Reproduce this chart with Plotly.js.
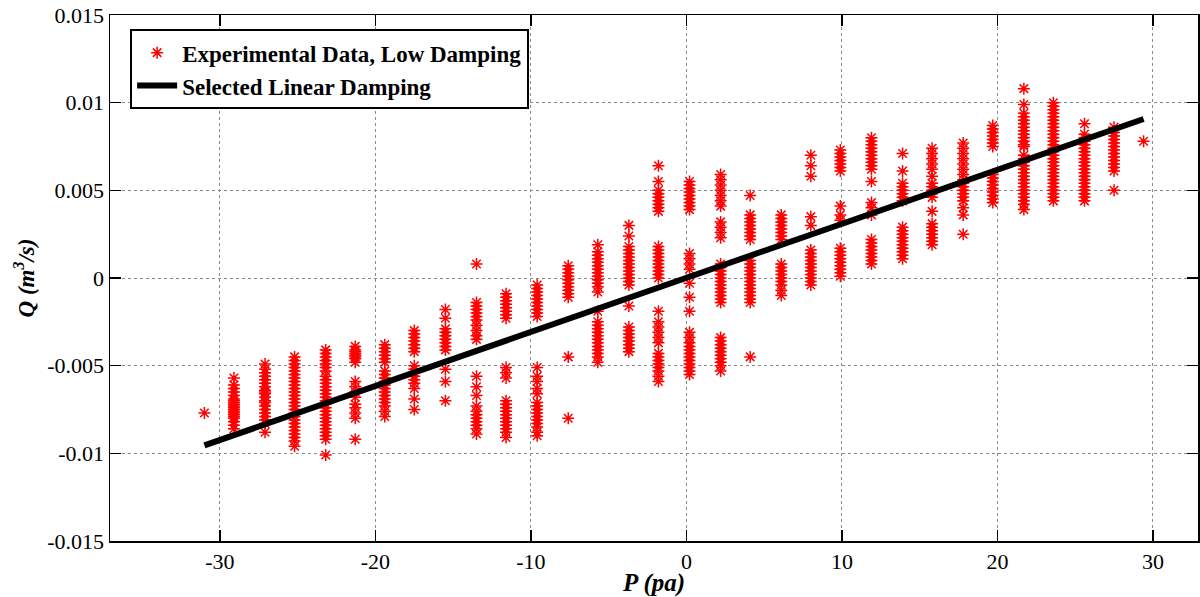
<!DOCTYPE html>
<html>
<head>
<meta charset="utf-8">
<script src="https://cdn.plot.ly/plotly-3.0.1.min.js"></script>
<style>html,body{margin:0;padding:0;background:#fff;}#chart{width:1200px;height:597px;}</style>
</head>
<body>
<div id="chart"></div>
<script>
// Pressure levels (pa) at which the experimental samples were taken
const P_levels = [-31.0, -29.1, -27.1, -25.2, -23.2, -21.3, -19.4, -17.5, -15.5, -13.5, -11.6, -9.6, -7.6, -5.7, -3.7, -1.8, 0.2, 2.2, 4.1, 6.1, 8.0, 9.9, 11.9, 13.9, 15.8, 17.8, 19.7, 21.7, 23.6, 25.6, 27.5, 29.4];

// Flow samples (in 1e-3 m^3/s) for each pressure level
const Q_m31 = [-7.7];
const Q_m29 = [-5.7,-6.1,-6.3,-6.5,-6.7,-6.9,-7.0,-7.1,-7.2,-7.3,-7.4,-7.5,-7.6,-7.7,-7.8,-7.9,-8.0,-8.2,-8.4,-8.6];
const Q_m27 = [-4.9,-5.2,-5.4,-5.6,-5.8,-6.0,-6.2,-6.4,-6.5,-6.6,-6.8,-7.0,-7.1,-7.3,-7.5,-7.7,-7.9,-8.1,-8.3,-8.8];
const Q_m25 = [-4.5,-4.7,-4.9,-5.1,-5.3,-5.5,-5.7,-5.9,-6.1,-6.3,-6.5,-6.7,-6.9,-7.1,-7.3,-7.5,-7.7,-7.9,-8.1,-8.3,-8.5,-8.7,-8.9,-9.1,-9.3,-9.6];
const Q_m23 = [-4.1,-4.3,-4.5,-4.7,-4.9,-5.1,-5.3,-5.6,-5.8,-6.0,-6.2,-6.4,-6.6,-6.8,-7.0,-7.2,-7.4,-7.6,-7.8,-8.0,-8.2,-8.4,-8.6,-8.8,-9.0,-9.2,-10.1];
const Q_m21 = [-3.9,-4.1,-4.2,-4.3,-4.4,-4.5,-4.6,-4.8,-5.9,-6.2,-6.5,-6.8,-7.2,-7.4,-7.7,-8.0,-9.2];
const Q_m19 = [-3.8,-4.0,-4.2,-4.4,-4.6,-4.8,-5.3,-5.5,-5.7,-5.9,-6.1,-6.3,-6.5,-6.7,-6.9,-7.1,-7.3,-7.6,-7.9];
const Q_m17 = [-3.0,-3.2,-3.4,-3.6,-3.8,-4.0,-4.2,-5.0,-5.2,-5.4,-5.6,-5.8,-6.0,-6.3,-6.9,-7.5];
const Q_m15 = [-1.8,-2.3,-2.9,-3.1,-3.3,-3.5,-3.7,-3.9,-4.1,-5.2,-5.9,-7.0];
const Q_m13 = [0.8,-1.4,-1.6,-1.8,-2.0,-2.2,-2.4,-2.7,-3.0,-3.3,-3.5,-5.6,-6.2,-6.7,-7.3,-7.6,-7.8,-8.0,-8.2,-8.4,-8.6,-8.9];
const Q_m11 = [-0.9,-1.1,-1.3,-1.5,-1.7,-1.9,-2.1,-2.3,-5.1,-5.4,-5.7,-7.0,-7.2,-7.4,-7.6,-7.8,-8.0,-8.2,-8.4,-8.6,-8.8,-9.1];
const Q_m9  = [-0.4,-0.6,-0.8,-1.0,-1.2,-1.4,-1.6,-1.8,-2.0,-2.2,-5.1,-5.6,-5.9,-6.3,-6.6,-7.1,-7.3,-7.5,-7.7,-7.9,-8.1,-8.3,-8.5,-8.8,-9.0];
const Q_m7  = [0.7,0.5,0.3,0.1,-0.1,-0.3,-0.5,-0.7,-0.9,-1.1,-4.5,-8.0];
const Q_m5  = [1.9,1.5,1.3,1.1,0.9,0.7,0.5,0.3,0.1,-0.1,-0.3,-0.5,-0.8,-1.9,-2.5,-2.7,-2.9,-3.1,-3.3,-3.5,-3.7,-3.9,-4.1,-4.3,-4.5,-4.8];
const Q_m3  = [3.0,2.4,1.8,1.6,1.4,1.2,1.0,0.8,0.6,0.4,0.2,0.0,-0.2,-0.4,-1.6,-2.8,-3.0,-3.2,-3.4,-3.6,-3.8,-4.0,-4.2];
const Q_m1  = [6.4,5.5,5.0,4.8,4.6,4.4,4.2,4.0,3.8,1.8,1.6,1.4,1.2,1.0,0.8,0.6,0.4,0.2,0.0,-1.9,-2.5,-2.8,-3.1,-3.4,-3.7,-4.3,-4.5,-4.7,-4.9,-5.1,-5.3,-5.6,-5.9];
const Q_0   = [5.5,5.3,5.1,4.9,4.7,4.5,4.3,4.1,3.9,1.4,1.1,0.8,0.5,-0.3,-1.1,-1.9,-3.1,-3.4,-3.7,-3.9,-4.1,-4.3,-4.5,-4.7,-4.9,-5.1,-5.3,-5.5];
const Q_2   = [5.9,5.6,5.3,5.0,4.7,4.4,4.1,3.2,2.9,2.6,2.3,0.8,0.6,0.4,0.2,0.0,-0.2,-0.4,-0.6,-0.8,-1.0,-1.2,-1.4,-3.4,-3.6,-3.8,-4.0,-4.2,-4.4,-4.6,-4.8,-5.0,-5.3];
const Q_4   = [4.7,3.6,3.4,3.2,3.0,2.8,2.6,2.4,2.2,1.0,0.8,0.6,0.4,0.2,0.0,-0.2,-0.4,-0.6,-0.8,-1.0,-1.2,-1.4,-4.5];
const Q_6   = [3.6,3.4,3.2,3.0,2.8,2.6,2.4,2.2,0.8,0.6,0.4,0.2,0.0,-0.2,-0.4,-0.7,-1.0];
const Q_8   = [7.0,6.4,5.8,3.5,3.0,1.6,1.4,1.2,1.0,0.8,0.6,0.4,0.2,0.0,-0.2,-0.4];
const Q_10  = [7.3,7.1,6.9,6.7,6.5,6.3,6.1,4.1,3.6,3.3,1.7,1.5,1.3,1.1,0.9,0.7,0.5,0.3,0.1];
const Q_12  = [8.0,7.8,7.6,7.4,7.2,7.0,6.8,6.6,6.4,6.2,5.5,4.3,4.0,3.6,2.2,2.0,1.8,1.6,1.4,1.2,1.0,0.8];
const Q_14  = [7.1,6.1,5.4,5.2,5.0,4.8,4.6,4.4,2.9,2.7,2.5,2.3,2.1,1.9,1.7,1.5,1.3,1.1];
const Q_16  = [7.4,7.1,6.8,6.5,6.2,5.8,5.4,5.2,5.0,4.8,4.6,3.8,3.1,2.9,2.7,2.5,2.3,2.1,1.9];
const Q_18  = [7.7,7.4,7.1,6.8,6.5,6.2,5.9,5.6,5.4,5.2,5.0,4.8,4.6,4.4,4.0,3.6,2.5];
const Q_20  = [8.7,8.5,8.3,8.1,7.9,7.7,7.5,5.9,5.7,5.5,5.3,5.1,4.9,4.7,4.5,4.3];
const Q_22  = [10.8,9.9,9.4,9.2,9.0,8.8,8.6,8.4,8.2,8.0,7.8,7.6,7.5,7.0,6.8,6.6,6.4,6.2,6.0,5.8,5.6,5.4,5.2,5.0,4.8,4.6,4.4,4.2,3.9];
const Q_24  = [10.0,9.8,9.6,9.4,9.2,9.0,8.8,8.6,8.4,8.2,8.0,7.8,7.6,7.4,7.2,7.0,6.8,6.6,6.4,6.2,6.0,5.8,5.6,5.4,5.2,5.0,4.8,4.6,4.4];
const Q_26  = [8.8,8.2,8.0,7.8,7.6,7.4,7.2,7.0,6.8,6.6,6.4,6.2,6.0,5.8,5.6,5.4,5.2,5.0,4.8,4.6,4.4];
const Q_28  = [8.6,8.3,8.1,7.9,7.7,7.5,7.3,7.1,6.9,6.7,6.5,6.3,6.1,5.0];
const Q_29  = [7.8];

const Q_columns = [Q_m31,Q_m29,Q_m27,Q_m25,Q_m23,Q_m21,Q_m19,Q_m17,Q_m15,Q_m13,Q_m11,Q_m9,Q_m7,Q_m5,Q_m3,Q_m1,Q_0,Q_2,Q_4,Q_6,Q_8,Q_10,Q_12,Q_14,Q_16,Q_18,Q_20,Q_22,Q_24,Q_26,Q_28,Q_29];
const Q_UNIT = 1e-3;

// Selected linear damping line endpoints
const fitP = [-31.0, 29.4];
const fitQ = [-0.00955, 0.00907];

// Tick labels
const xTickVals = [-30, -20, -10, 0, 10, 20, 30];
const xTickText = ['-30', '-20', '-10', '0', '10', '20', '30'];
const yTickVals = [0.015, 0.01, 0.005, 0, -0.005, -0.01, -0.015];
const yTickText = ['0.015', '0.01', '0.005', '0', '-0.005', '-0.01', '-0.015'];

const expX = [], expY = [];
P_levels.forEach((p, i) => {
  Q_columns[i].forEach(q => { expX.push(p); expY.push(q * Q_UNIT); });
});

const serif = 'Liberation Serif, Times New Roman, serif';

const traces = [
  {
    x: expX, y: expY, type: 'scatter', mode: 'markers',
    name: 'Experimental Data, Low Damping',
    marker: {symbol: 'asterisk-open', size: 10, color: '#ff0000', line: {color: '#ff0000', width: 1.5}}
  },
  {
    x: fitP, y: fitQ, type: 'scatter', mode: 'lines',
    name: 'Selected Linear Damping',
    line: {color: '#000000', width: 6}
  }
];

const axisCommon = {
  showline: true, linecolor: '#000', linewidth: 1.5, mirror: 'ticks',
  ticks: 'inside', ticklen: 11, tickwidth: 1.5, tickcolor: '#000',
  showgrid: true, gridcolor: '#8a8a8a', gridwidth: 1, griddash: 'dot',
  zeroline: false, tickmode: 'array',
  tickfont: {family: serif, size: 22, color: '#000'}
};

const layout = {
  width: 1200, height: 597,
  margin: {l: 110, r: 2, t: 15, b: 56},
  paper_bgcolor: '#fff', plot_bgcolor: '#fff',
  showlegend: true,
  legend: {
    x: 0.0185, y: 0.973, xanchor: 'left', yanchor: 'top',
    bgcolor: '#fff', bordercolor: '#000', borderwidth: 2,
    font: {family: serif, size: 23, color: '#000', weight: 'bold'},
    itemwidth: 40, tracegroupgap: 0
  },
  xaxis: Object.assign({}, axisCommon, {
    range: [-37.07, 32.9], tickvals: xTickVals, ticktext: xTickText,
    title: {text: '<b><i>P (pa)</i></b>', font: {family: serif, size: 25, color: '#000'}, standoff: 2}
  }),
  yaxis: Object.assign({}, axisCommon, {
    range: [-0.015, 0.015], tickvals: yTickVals, ticktext: yTickText,
    title: {text: '<b><i>Q (m<sup>3</sup>/s)</i></b>', font: {family: serif, size: 23, color: '#000'}, standoff: 6}
  })
};

Plotly.newPlot('chart', traces, layout, {displayModeBar: false, staticPlot: true});
</script>
</body>
</html>
